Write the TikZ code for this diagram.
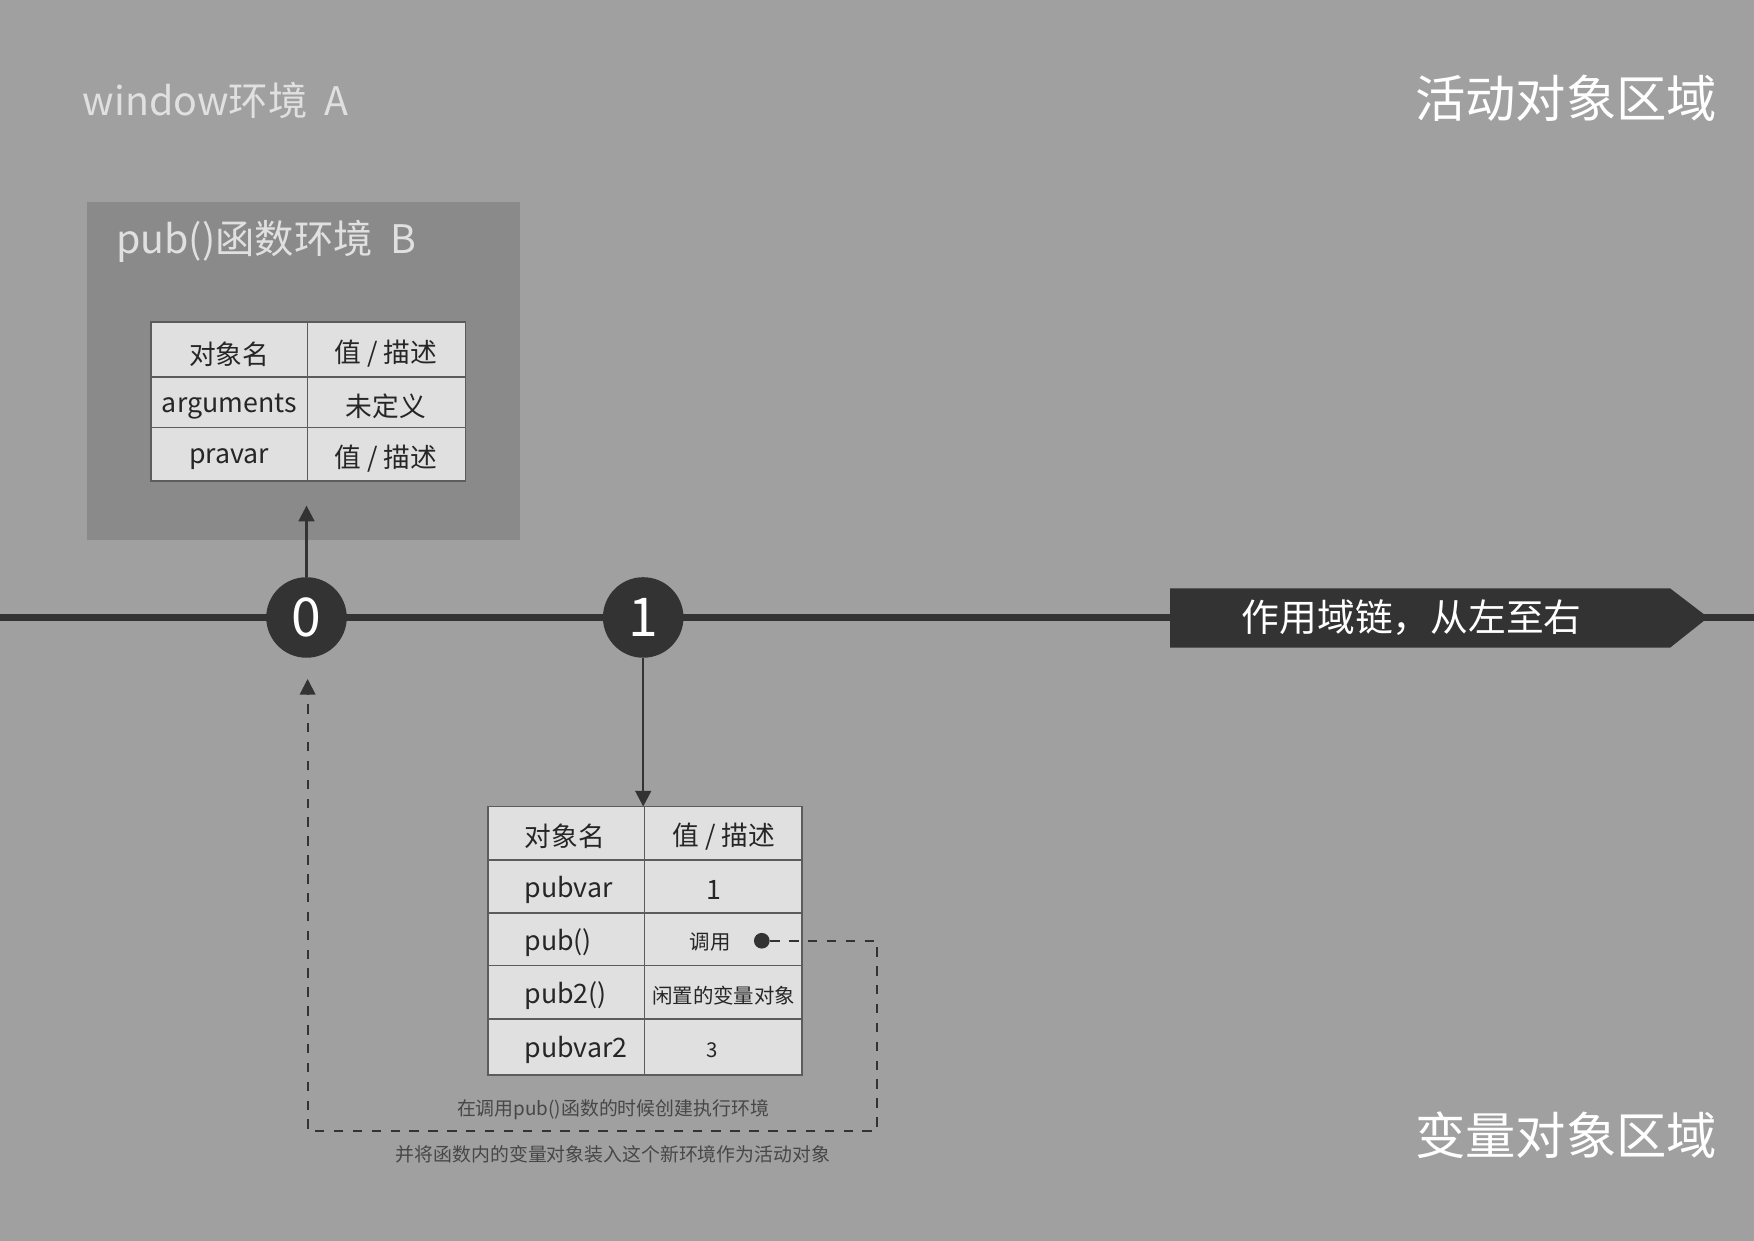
\documentclass[tikz,border=0pt]{standalone}
\usepackage{fontspec}
\setmainfont{Noto Sans CJK SC}
\usetikzlibrary{arrows.meta}
\definecolor{bg}{HTML}{A0A0A0}
\definecolor{boxb}{HTML}{8A8A8A}
\definecolor{cell}{HTML}{E0E0E0}
\definecolor{dark}{HTML}{333333}
\newcommand{\vd}{值 / 描述}
\tikzset{
 cellbox/.style={draw=dark!80,fill=cell,line width=0.5pt,inner sep=0pt},
 celltxt/.style={text=black!85,font=\fontsize{8.5}{10}\selectfont},
 bigtxt/.style={text=white,font=\fontsize{16}{18}\selectfont},
 circ/.style={circle,fill=dark,minimum size=72*0.0125cm,inner sep=0pt,text=white,font=\fontsize{17}{18}\selectfont},
 ptr/.style={draw=dark,line width=0.8pt,-{Triangle[length=5pt,width=5pt]}},
}
\begin{document}
\begin{tikzpicture}[x=0.0125cm,y=-0.0125cm]
\fill[bg] (0,0) rectangle (1568,1109);
\useasboundingbox (0,0) rectangle (1568,1109);
\node[anchor=west,text=white!88!black,font=\fontsize{12.5}{14}\selectfont] (wa) at (64,90) {window环境\ \ A};
\node[anchor=east,bigtxt] (act) at (1545,88) {活动对象区域};
\node[anchor=east,bigtxt] (var) at (1545,1015) {变量对象区域};
% box B
\fill[boxb] (78,181) rectangle (465,483);
\node[anchor=west,text=white!88!black,font=\fontsize{12.5}{14}\selectfont] (bt) at (94,216) {pub()函数环境\ \ B};
% table 1
\foreach \ya/\yb/\a/\b [count=\i] in {288/337/对象名/\vd, 337/382/arguments/未定义, 382/430/pravar/\vd}{
 \draw[cellbox] (135,\ya) rectangle (275,\yb);
 \draw[cellbox] (275,\ya) rectangle (416,\yb);
 \node[celltxt] (ta\i) at (205,{(\ya+\yb)/2+4}) {\a};
 \node[celltxt] (tb\i) at (345,{(\ya+\yb)/2+4}) {\b};
}
\coordinate (t1bot) at (274,452);
% main line
\draw[dark,line width=2pt] (0,552) -- (1568,552);
\node[circ] (c0) at (274,552) {0};
\node[circ] (c1) at (575,552) {1};
\draw[ptr] (c0) -- (t1bot);
% banner
\fill[dark] (1046,526) -- (1493,526) -- (1527,552) -- (1493,579) -- (1046,579) -- cycle;
\node[text=white,font=\fontsize{12}{13}\selectfont] (ban) at (1262,552) {作用域链，从左至右};
% table 2
\coordinate (t2top) at (575,721);
\draw[ptr] (c1) -- (t2top);
\foreach \ya/\yb/\a/\b/\s/\bx [count=\i] in {721/769/对象名/\vd/8.5/647, 769/816/pubvar/1/8.5/638, 816/863/pub()/调用/6.5/635, 863/911/pub2()/闲置的变量对象/6.5/647, 911/961/pubvar2/3/6.5/637}{
 \draw[cellbox] (436,\ya) rectangle (576,\yb);
 \draw[cellbox] (576,\ya) rectangle (717,\yb);
 \node[celltxt,anchor=west] (sa\i) at (459,{(\ya+\yb)/2+3}) {\a};
 \node[text=black!85,font=\fontsize{\s}{10}\selectfont] (sb\i) at (\bx,{(\ya+\yb)/2+3}) {\b};
}
\node[circle,fill=dark,minimum size=14*0.0125cm,inner sep=0pt] (dot) at (681,841) {};
\coordinate (k1) at (784,841);
\coordinate (k2) at (784,1011);
\coordinate (k3) at (275,1011);
\coordinate (k4) at (275,607);
\draw[dark,dashed,line width=0.6pt,-{Triangle[length=5pt,width=5pt]}] (dot) -- (k1) -- (k2) -- (k3) -- (k4);
\node[text=dark!90,font=\fontsize{6}{7}\selectfont] (n1) at (548,992) {在调用pub()函数的时候创建执行环境};
\node[text=dark!90,font=\fontsize{6}{7}\selectfont] (n2) at (548,1032) {并将函数内的变量对象装入这个新环境作为活动对象};
\end{tikzpicture}
\end{document}
